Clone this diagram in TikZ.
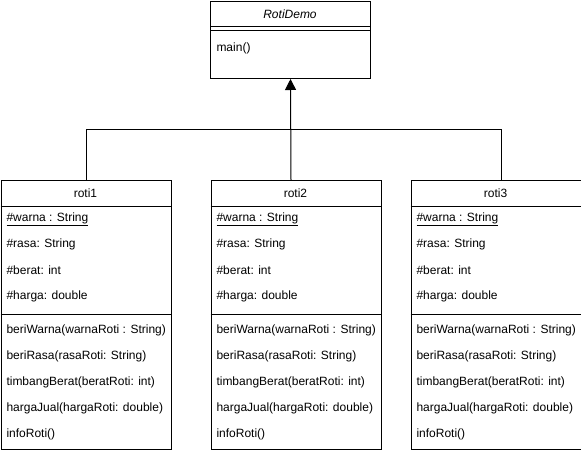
\documentclass[tikz,border=0pt]{standalone}
\usepackage{fontspec}
\setmainfont{Liberation Sans}
\usetikzlibrary{arrows.meta}
\begin{document}
\begin{tikzpicture}[x=1pt,y=-1pt,line width=1pt,
  box/.style={draw, fill=white, anchor=north west, inner sep=0pt},
  field/.style={anchor=west, inner sep=0pt, font=\fontsize{12}{14}\selectfont},
  title/.style={inner sep=0pt, font=\fontsize{12}{14}\selectfont},
  gen/.style={-{Triangle[length=11pt,width=11pt]}}]
\useasboundingbox (0,0) rectangle (581,450);
% abstract class
\node[box, minimum width=160pt, minimum height=77pt] (demo) at (210,1) {};
\node[title, font=\fontsize{12}{14}\selectfont\itshape] (demoT) at (290,14) {RotiDemo};
\draw (210,26) -- (370,26);
\draw (210,30) -- (370,30);
\node[field] (demoM) at (216,48) {main()};
% classes
\foreach \x/\n in {0/1,210/2,410/3}{
  \node[box, minimum width=170pt, minimum height=269pt] (r\n) at (\x+0.5,180) {};
  \node[title] (t\n) at (\x+85.5,193) {roti\n};
  \draw (\x+0.5,206) -- ++(170,0);
  \node[field] (a\n) at (\x+6,219) {\underline{\#warna : String}};
  \node[field] (b\n) at (\x+6,244) {\#rasa: String};
  \node[field] (c\n) at (\x+6,270) {\#berat: int};
  \node[field] (d\n) at (\x+6,296) {\#harga: double};
  \draw (\x+0.5,314) -- ++(170,0);
  \node[field] (m1\n) at (\x+6,330) {beriWarna(warnaRoti : String)};
  \node[field] (m2\n) at (\x+6,356) {beriRasa(rasaRoti: String)};
  \node[field] (m3\n) at (\x+6,382) {timbangBerat(beratRoti: int)};
  \node[field] (m4\n) at (\x+6,408) {hargaJual(hargaRoti: double)};
  \node[field] (m5\n) at (\x+6,434) {infoRoti()};
}
% connectors
\coordinate (j) at (290,129.5);
\draw (r1.north) |- (j);
\draw ([xshift=5pt]r3.north) |- (j);
\draw[gen] ([xshift=-5pt]r2.north) -- (demo.south);
\end{tikzpicture}
\end{document}
